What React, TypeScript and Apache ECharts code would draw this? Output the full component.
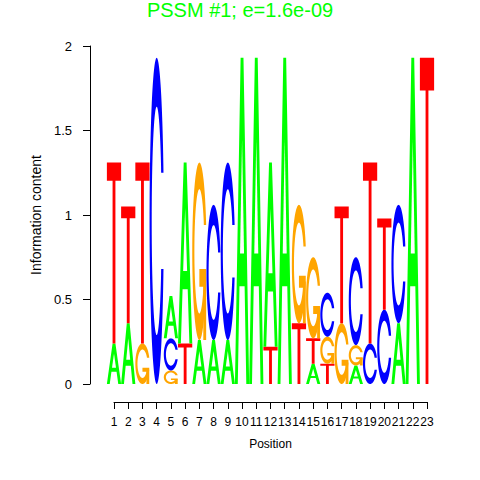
import React, { useEffect, useRef } from 'react';
import * as echarts from 'echarts';

const titleText = 'PSSM #1; e=1.6e-09';
const xAxisTitle = 'Position';
const yAxisTitle = 'Information content';
const positions = [1, 2, 3, 4, 5, 6, 7, 8, 9, 10, 11, 12, 13, 14, 15, 16, 17, 18, 19, 20, 21, 22, 23];
const letters = ['A', 'C', 'G', 'T'];
const letterColors = ['#00FF00', '#0000FF', '#FFA500', '#FF0000'];
// information content of each letter at each position (bits)
const heightA = [0.24, 0.36, 0, 0, 0.25, 1.07, 0.26, 0.26, 0.26, 1.93, 1.93, 1.09, 1.93, 0, 0.12, 0, 0, 0.11, 0, 0, 0.36, 1.93, 0];
const heightC = [0, 0, 0, 1.93, 0.19, 0, 0, 0.8, 1.05, 0, 0, 0, 0, 0, 0, 0.26, 0, 0.52, 0.24, 0.44, 0.7, 0, 0];
const heightG = [0, 0, 0.24, 0, 0.08, 0, 1.05, 0, 0, 0, 0, 0, 0, 0.7, 0.48, 0.16, 0.36, 0.12, 0, 0, 0, 0, 0];
const heightT = [1.07, 0.69, 1.07, 0, 0, 0.24, 0, 0, 0, 0, 0, 0.22, 0, 0.36, 0.15, 0.12, 0.69, 0, 1.07, 0.54, 0, 0, 1.93];
const yTicks = [0, 0.5, 1, 1.5, 2];

type Pt = [number, number];

function linspace(a: number, b: number, n: number): number[] {
  const out: number[] = [];
  for (let i = 0; i < n; i++) out.push(a + ((b - a) * i) / (n - 1));
  return out;
}

function buildRing(): { ring: Pt[]; r1: number } {
  const N = 40;
  const a1 = linspace(0.3 + Math.PI / 2, Math.PI, N);
  const a2 = linspace(Math.PI, 1.5 * Math.PI, N);
  const ol1: Pt[] = a1.map((a) => [0.5 + 0.5 * Math.sin(a), 0.5 + 0.5 * Math.cos(a)]);
  const ol2: Pt[] = a2.map((a) => [0.5 + 0.5 * Math.sin(a), 0.5 + 0.5 * Math.cos(a)]);
  const maxY1 = Math.max(...ol1.map((p) => p[1]));
  const r1 = Math.max(...ol1.map((p) => p[0]));
  const ol = [...ol1, ...ol2];
  const outer: Pt[] = [...ol, ...ol.slice().reverse().map((p) => [p[0], 1 - p[1]] as Pt)];
  let il1: Pt[] = a1.map((a) => [0.5 + 0.35 * Math.sin(a), 0.5 + 0.35 * Math.cos(a)] as Pt).filter((p) => p[1] <= maxY1);
  il1 = il1.map((p, i) => (i === 0 ? [p[0], maxY1] : p) as Pt);
  const il2: Pt[] = a2.map((a) => [0.5 + 0.35 * Math.sin(a), 0.5 + 0.35 * Math.cos(a)]);
  const il = [...il1, ...il2];
  const inner: Pt[] = [...il, ...il.slice().reverse().map((p) => [p[0], 1 - p[1]] as Pt)];
  return { ring: [...outer, ...inner.reverse()], r1 };
}

const RING = buildRing();
const A_OUTER: Pt[] = [[0, 0], [0.4, 1], [0.6, 1], [1, 0], [0.8, 0], [0.68, 0.3], [0.32, 0.3], [0.2, 0]];
const A_HOLE: Pt[] = [[0.36, 0.4], [0.5, 0.75], [0.64, 0.4]];
const T_PTS: Pt[] = [[0, 1], [1, 1], [1, 0.9], [0.6, 0.9], [0.6, 0], [0.4, 0], [0.4, 0.9], [0, 0.9]];
const G_BAR: Pt[] = [[RING.r1, 0.4], [0.5, 0.4], [0.5, 0.3], [RING.r1 - 0.2, 0.3], [RING.r1 - 0.2, 0], [RING.r1, 0]];

const SHAPES: Record<string, { pts: Pt[]; white?: boolean }[]> = {
  A: [{ pts: A_OUTER }, { pts: A_HOLE, white: true }],
  C: [{ pts: RING.ring }],
  G: [{ pts: RING.ring }, { pts: G_BAR }],
  T: [{ pts: T_PTS }],
};

function polyPath(pts: Pt[], xl: number, yb: number, w: number, h: number): string {
  return (
    pts
      .map((p, i) => (i ? 'L' : 'M') + (xl + p[0] * w).toFixed(2) + ' ' + (yb - p[1] * h).toFixed(2))
      .join(' ') + ' Z'
  );
}

function buildData(): number[][] {
  const all = [heightA, heightC, heightG, heightT];
  const data: number[][] = [];
  positions.forEach((pos, i) => {
    const items = all
      .map((arr, li) => ({ li, h: arr[i] }))
      .filter((d) => d.h > 0)
      .sort((a, b) => a.h - b.h);
    let acc = 0;
    items.forEach((d) => {
      data.push([pos, d.li, acc, acc + d.h]);
      acc += d.h;
    });
  });
  return data;
}

const FONT = '"Liberation Sans", Arial, Helvetica, sans-serif';

export default function App() {
  const ref = useRef<HTMLDivElement>(null);
  useEffect(() => {
    document.body.style.margin = '0';
    if (!ref.current) return;
    const chart = echarts.init(ref.current, null, { renderer: 'svg' });
    chart.setOption({
      animation: false,
      backgroundColor: '#fff',
      title: {
        text: titleText,
        left: 'center',
        top: -5,
        textStyle: { color: '#00FF00', fontSize: 20, fontWeight: 'normal', fontFamily: FONT },
      },
      grid: { left: 114, right: 53, top: 46, bottom: 96 },
      xAxis: {
        type: 'value',
        min: 1,
        max: 23,
        interval: 1,
        offset: 18,
        name: xAxisTitle,
        nameLocation: 'middle',
        nameGap: 36,
        nameTextStyle: { color: '#000', fontSize: 12, fontFamily: FONT },
        axisLine: { show: true, onZero: false, lineStyle: { color: '#000', width: 1 } },
        axisTick: { show: true, length: 7, lineStyle: { color: '#000' } },
        axisLabel: { color: '#000', fontSize: 12, margin: 14, fontFamily: FONT, hideOverlap: false },
        splitLine: { show: false },
      },
      yAxis: {
        type: 'value',
        min: 0,
        max: 2,
        interval: 0.5,
        offset: 24,
        name: yAxisTitle,
        nameLocation: 'middle',
        nameGap: 46,
        nameRotate: 90,
        nameTextStyle: { color: '#000', fontSize: 14, fontFamily: FONT },
        axisLine: { show: true, onZero: false, lineStyle: { color: '#000', width: 1 } },
        axisTick: { show: true, length: 7, lineStyle: { color: '#000' } },
        axisLabel: {
          color: '#000',
          fontSize: 13,
          margin: 18,
          fontFamily: FONT,
          formatter: (v: number) => (yTicks.includes(v) ? String(v) : ''),
        },
        splitLine: { show: false },
      },
      series: [
        {
          type: 'custom',
          clip: false,
          encode: { x: 0, y: [2, 3] },
          data: buildData(),
          renderItem: (params: any, api: any) => {
            const pos = api.value(0);
            const li = api.value(1);
            const y0 = api.value(2);
            const y1 = api.value(3);
            const pl = api.coord([pos - 0.5, y0]);
            const pr = api.coord([pos + 0.5, y1]);
            const xl = pl[0];
            const yb = pl[1];
            const w = pr[0] - pl[0];
            const h = pl[1] - pr[1];
            const shapes = SHAPES[letters[li]];
            return {
              type: 'group',
              children: shapes.map((s) => ({
                type: 'path',
                silent: true,
                shape: { pathData: polyPath(s.pts, xl, yb, w, h) },
                style: { fill: s.white ? '#ffffff' : letterColors[li], stroke: 'none' },
              })),
            };
          },
        },
      ],
    });
    return () => chart.dispose();
  }, []);
  return <div ref={ref} style={{ width: 480, height: 480 }} />;
}
